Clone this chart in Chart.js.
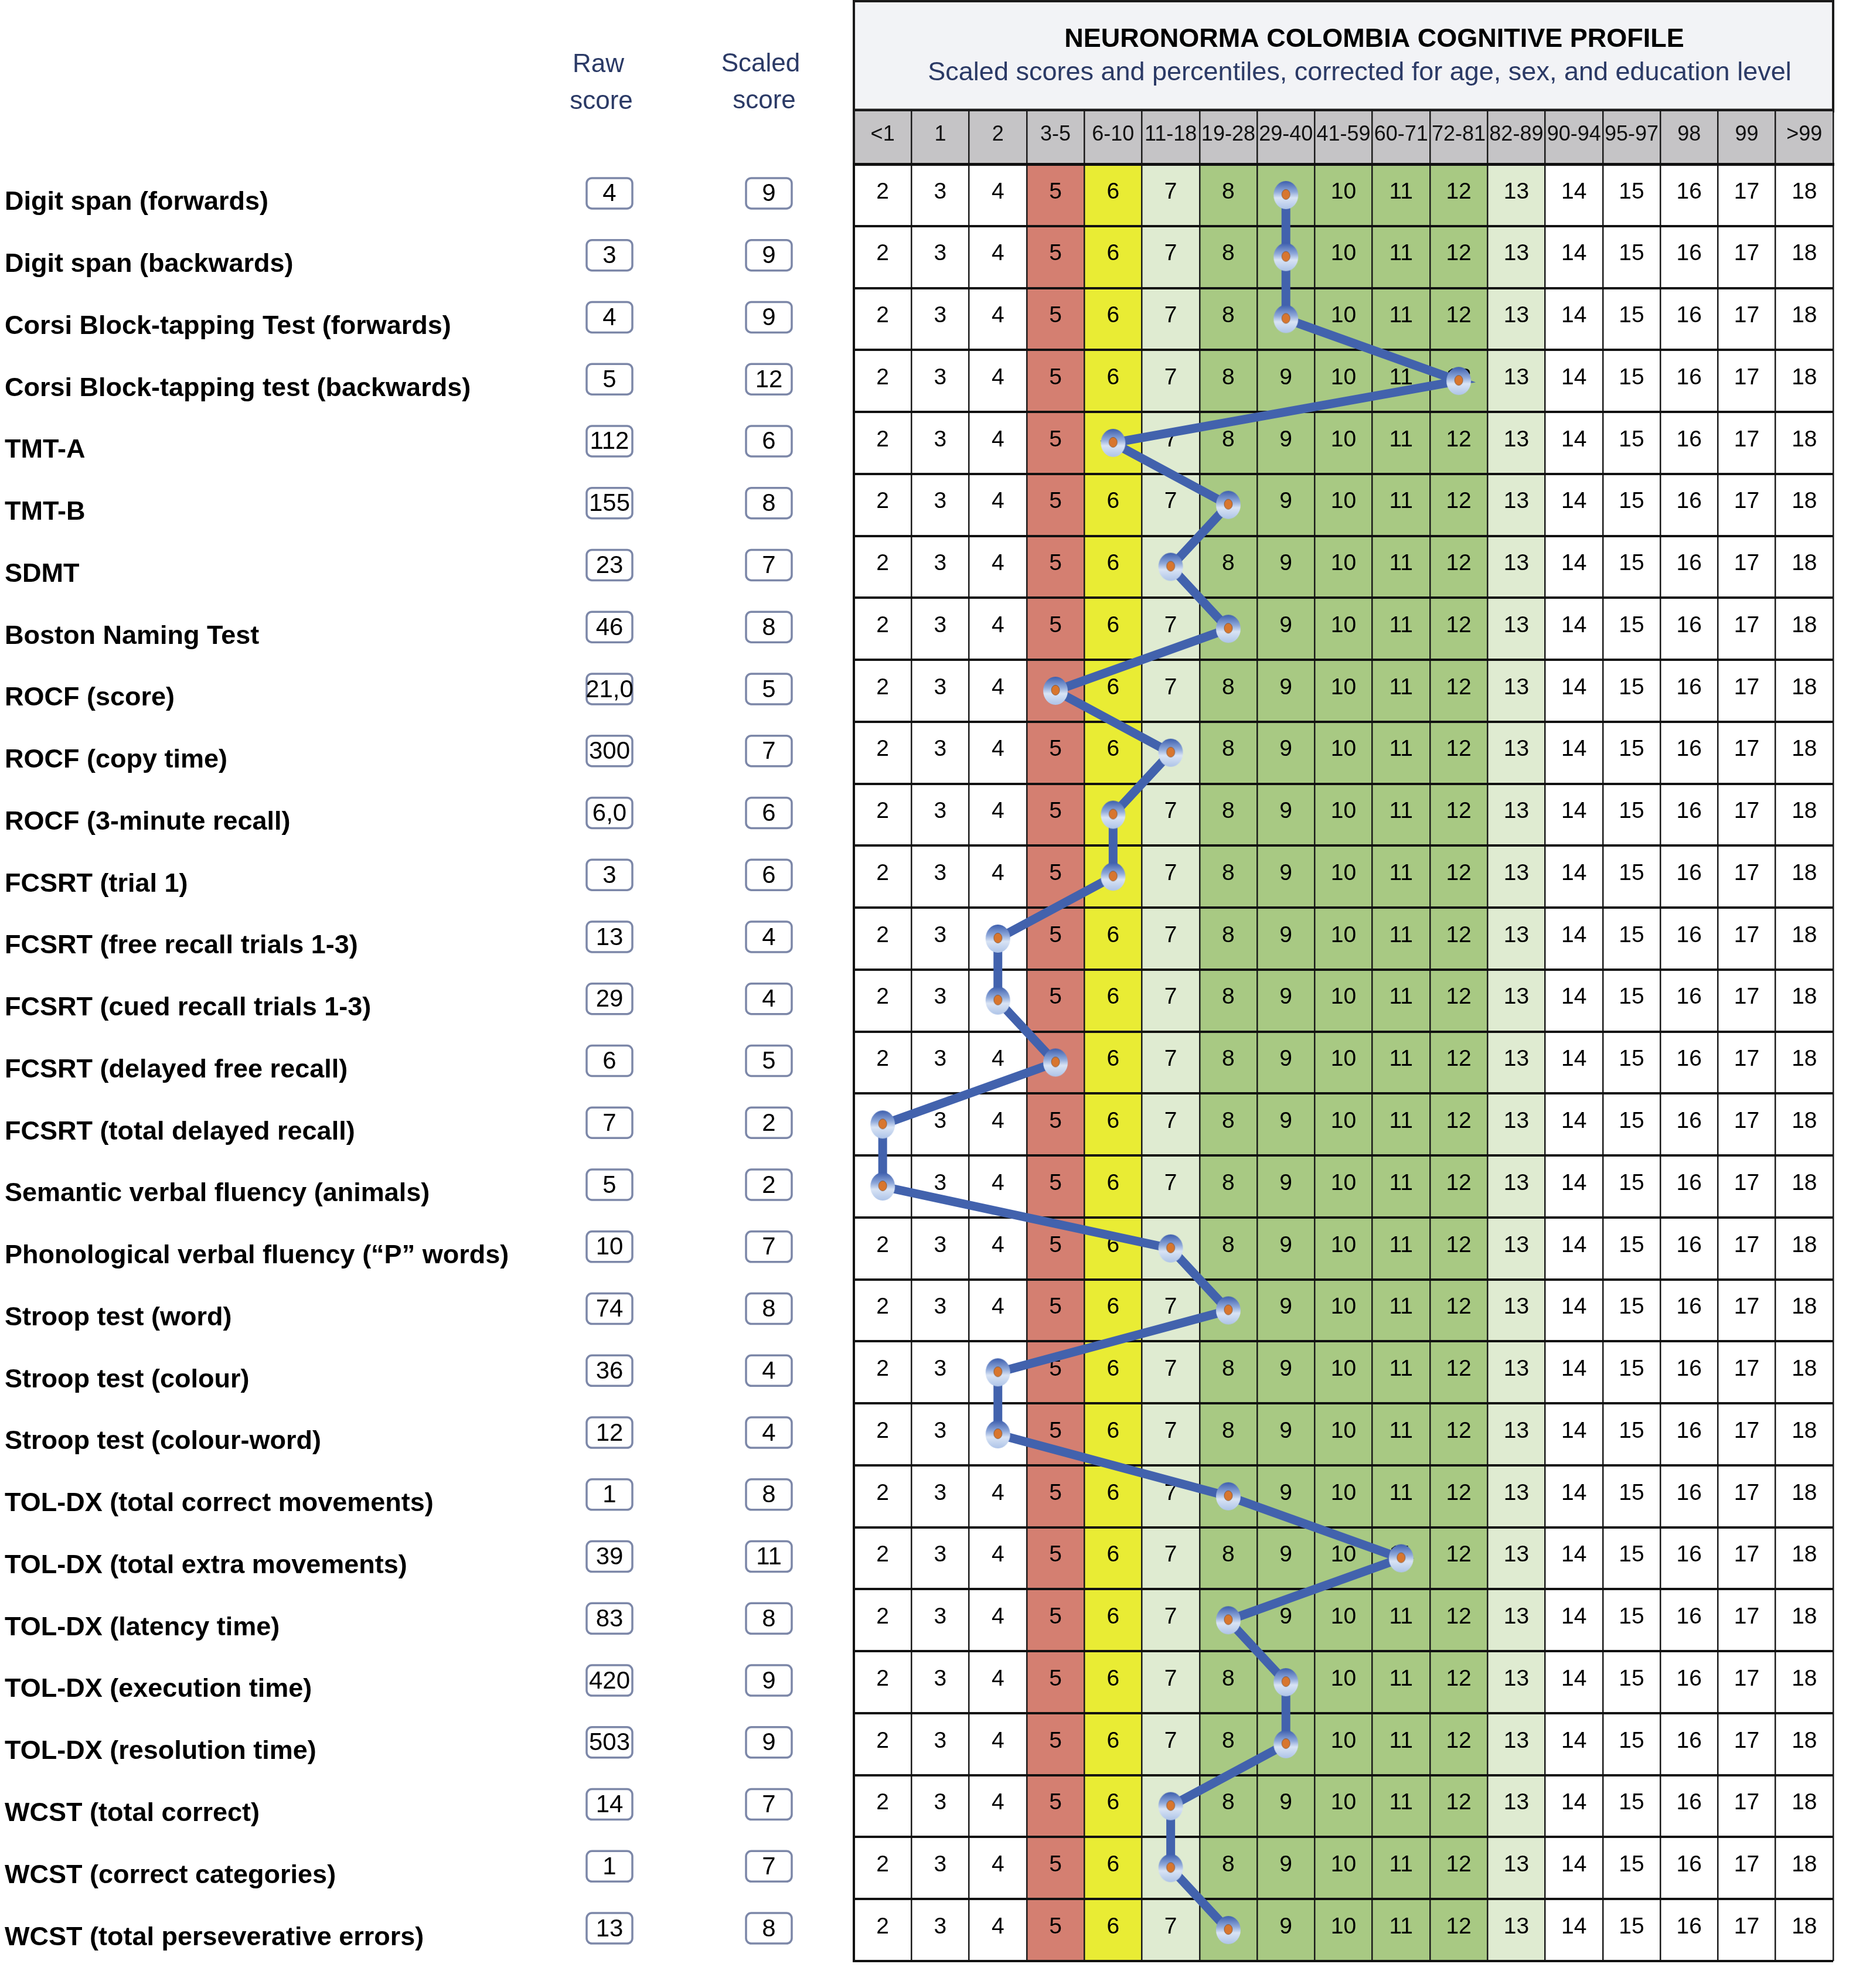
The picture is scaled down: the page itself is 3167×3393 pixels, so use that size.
<!DOCTYPE html>
<html><head><meta charset="utf-8">
<script src="https://cdn.jsdelivr.net/npm/chart.js@4.4.1/dist/chart.umd.min.js"></script>
<style>html,body{margin:0;padding:0;background:#fff}canvas{display:block}</style>
</head><body>
<canvas id="c" width="3167" height="3393"></canvas>
<script>
// ---------------- DATA ----------------
const tests = [
  'Digit span (forwards)','Digit span (backwards)','Corsi Block-tapping Test (forwards)',
  'Corsi Block-tapping test (backwards)','TMT-A','TMT-B','SDMT','Boston Naming Test',
  'ROCF (score)','ROCF (copy time)','ROCF (3-minute recall)','FCSRT (trial 1)',
  'FCSRT (free recall trials 1-3)','FCSRT (cued recall trials 1-3)','FCSRT (delayed free recall)',
  'FCSRT (total delayed recall)','Semantic verbal fluency (animals)',
  'Phonological verbal fluency (\u201CP\u201D words)','Stroop test (word)','Stroop test (colour)',
  'Stroop test (colour-word)','TOL-DX (total correct movements)','TOL-DX (total extra movements)',
  'TOL-DX (latency time)','TOL-DX (execution time)','TOL-DX (resolution time)',
  'WCST (total correct)','WCST (correct categories)','WCST (total perseverative errors)'
];
const rawScores = ['4','3','4','5','112','155','23','46','21,0','300','6,0','3','13','29','6','7','5','10','74','36','12','1','39','83','420','503','14','1','13'];
const scaledScores = [9,9,9,12,6,8,7,8,5,7,6,6,4,4,5,2,2,7,8,4,4,8,11,8,9,9,7,7,8];
const scoreColumns = [2,3,4,5,6,7,8,9,10,11,12,13,14,15,16,17,18];
const percentileLabels = ['<1','1','2','3-5','6-10','11-18','19-28','29-40','41-59','60-71','72-81','82-89','90-94','95-97','98','99','>99'];
const columnBands = ['none','none','none','impaired','borderline','lowNormal','normal','normal','normal','normal','normal','lowNormal','none','none','none','none','none'];
const chartTitle = 'NEURONORMA COLOMBIA COGNITIVE PROFILE';
const chartSubtitle = 'Scaled scores and percentiles, corrected for age, sex, and education level';
const rawHeader = ['Raw','score'];
const scaledHeader = ['Scaled','score'];

// ---------------- STYLE ----------------
const FONT = "'Liberation Sans', Arial, Helvetica, sans-serif";
const bandColors = {none:'#ffffff', impaired:'#d47f71', borderline:'#e9ec34', lowNormal:'#dfebd1', normal:'#a8c983'};
const NAVY = '#2b3a66';

function makeMarker(){
  const c = document.createElement('canvas'); c.width = 46; c.height = 52;
  const g = c.getContext('2d');
  const grad = g.createLinearGradient(0, 2, 0, 50);
  grad.addColorStop(0, '#3e5fae');
  grad.addColorStop(0.38, '#8ea8da');
  grad.addColorStop(0.6, '#d9e4f5');
  grad.addColorStop(1, '#aec4e8');
  g.fillStyle = grad;
  g.beginPath(); g.ellipse(23, 26, 21, 24, 0, 0, Math.PI*2); g.fill();
  g.fillStyle = '#d8762e';
  g.beginPath(); g.ellipse(23, 25, 7, 8.5, 0, 0, Math.PI*2); g.fill();
  g.strokeStyle = 'rgba(90,50,20,0.55)'; g.lineWidth = 1; g.stroke();
  return c;
}
const marker = makeMarker();

const tablePlugin = {
  id: 'tablePlugin',
  beforeDraw(chart){
    const ctx = chart.ctx, xs = chart.scales.x, ys = chart.scales.y, ca = chart.chartArea;
    ctx.save();
    ctx.fillStyle = '#fff'; ctx.fillRect(0, 0, chart.width, chart.height);
    // title box
    const L = ca.left, R = ca.right;
    ctx.fillStyle = '#f2f3f6';
    ctx.fillRect(L, 2, R - L, xs.top - 2);
    ctx.strokeStyle = '#1a1a1a'; ctx.lineWidth = 4;
    ctx.strokeRect(L, 2, R - L, xs.top - 2);
    ctx.lineWidth = 5;
    ctx.beginPath(); ctx.moveTo(L, xs.top - 2); ctx.lineTo(R, xs.top - 2); ctx.stroke();
    ctx.textAlign = 'center'; ctx.textBaseline = 'alphabetic';
    ctx.fillStyle = '#000'; ctx.font = 'bold 45px ' + FONT;
    ctx.fillText(chartTitle, 2345, 80);
    ctx.fillStyle = NAVY; ctx.font = '45px ' + FONT;
    ctx.fillText(chartSubtitle, 2320, 137);
    // header row background
    ctx.fillStyle = '#c5c4c6';
    ctx.fillRect(L, xs.top, R - L, xs.bottom - xs.top);
    // column headers for raw / scaled
    ctx.fillStyle = NAVY; ctx.font = '44px ' + FONT;
    ctx.fillText(rawHeader[0], 1021, 123); ctx.fillText(rawHeader[1], 1026, 186);
    ctx.fillText(scaledHeader[0], 1298, 122); ctx.fillText(scaledHeader[1], 1304, 185);
    // coloured bands + cell numbers
    scoreColumns.forEach((v, ci) => {
      const x0 = xs.getPixelForValue(v - 0.5), x1 = xs.getPixelForValue(v + 0.5);
      ctx.fillStyle = bandColors[columnBands[ci]];
      ctx.fillRect(x0, ca.top, x1 - x0, ca.bottom - ca.top);
    });
    ctx.fillStyle = '#000'; ctx.font = '39px ' + FONT; ctx.textBaseline = 'middle';
    tests.forEach((t, ri) => {
      const y = ys.getPixelForValue(ri);
      scoreColumns.forEach(v => {
        ctx.fillText(String(v), xs.getPixelForValue(v), y - 5);
      });
    });
    // raw / scaled score boxes
    tests.forEach((t, ri) => {
      const y = ys.getPixelForValue(ri) - 3;
      [[1040, rawScores[ri]], [1312, String(scaledScores[ri])]].forEach(([cx, txt]) => {
        ctx.fillStyle = '#fff'; ctx.strokeStyle = '#7c87a8'; ctx.lineWidth = 3.5;
        ctx.beginPath(); ctx.roundRect(cx - 39, y - 26, 78, 52, 9); ctx.fill(); ctx.stroke();
        ctx.fillStyle = '#000'; ctx.font = '42px ' + FONT;
        ctx.fillText(txt, cx, y + 2);
      });
    });
    ctx.restore();
  }
};

new Chart(document.getElementById('c'), {
  type: 'line',
  data: {
    datasets: [{
      data: scaledScores.map((v, i) => ({x: v, y: tests[i]})),
      borderColor: '#4262ad', borderWidth: 15, tension: 0,
      pointStyle: marker, pointRadius: 24, pointHoverRadius: 24,
      xAxisID: 'x', yAxisID: 'y', clip: false, fill: false
    }]
  },
  options: {
    responsive: false, animation: false, devicePixelRatio: 1, indexAxis: 'y',
    layout: {padding: {left: 8, top: 190, right: 37, bottom: 46}},
    plugins: {legend: {display: false}, tooltip: {enabled: false}},
    scales: {
      x: {
        type: 'linear', position: 'top', min: 1.5, max: 18.5,
        afterBuildTicks: s => { s.ticks = scoreColumns.map(v => ({value: v})); },
        afterFit: s => { s.height = 90; },
        ticks: {autoSkip: false, maxRotation: 0, minRotation: 0, padding: -62, color: '#111',
          font: {family: FONT, size: 36},
          callback: (v, i) => percentileLabels[i]},
        grid: {offset: true, color: '#1a1a1a', drawTicks: true, tickLength: 90,
          lineWidth: c => (c.index === 0 || c.index === scoreColumns.length) ? 4 : 2.5},
        border: {display: true, color: '#111', width: 5}
      },
      y: {
        type: 'category', labels: tests, offset: true, position: 'left',
        afterFit: s => { s.width = 1449; },
        ticks: {crossAlign: 'far', autoSkip: false, labelOffset: 13, color: '#000',
          font: {family: FONT, size: 45, weight: 'bold'}},
        grid: {offset: true, color: '#111', drawTicks: false,
          lineWidth: c => c.index === tests.length ? 6 : 4},
        border: {display: true, color: '#111', width: 4}
      }
    }
  },
  plugins: [tablePlugin]
});
</script>
</body></html>
